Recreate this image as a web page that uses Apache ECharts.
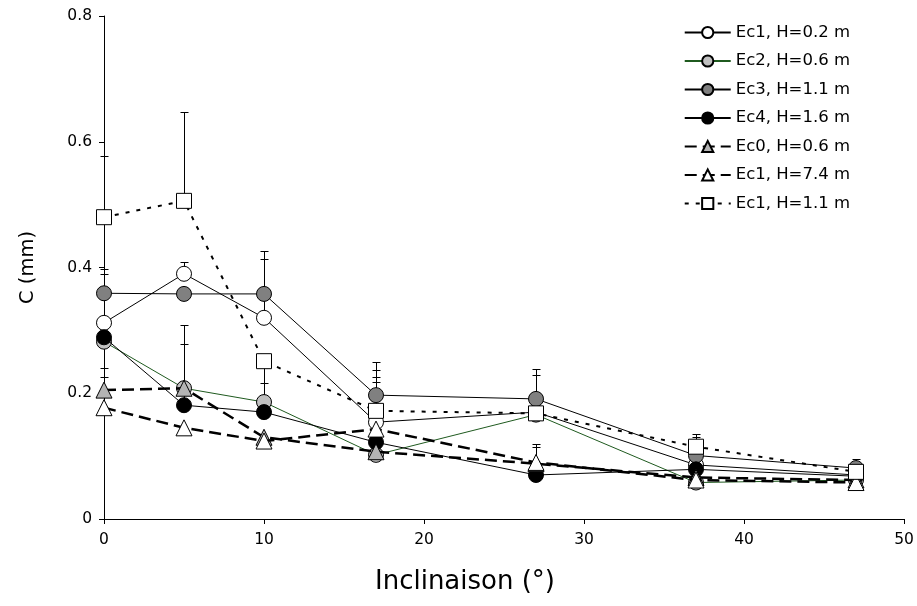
<!DOCTYPE html>
<html>
<head>
<meta charset="utf-8">
<script src="https://cdn.jsdelivr.net/npm/echarts@6/dist/echarts.min.js"></script>
<style>
html,body{margin:0;padding:0;background:#fff;}
#c{width:917px;height:606px;}
</style>
</head>
<body>
<div id="c"></div>
<script>
// Inclination angles (°)
const xs = [0, 5, 10, 17, 27, 37, 47];
// Series names
const names = ['Ec1, H=0.2 m','Ec2, H=0.6 m','Ec3, H=1.1 m','Ec4, H=1.6 m','Ec0, H=0.6 m','Ec1, H=7.4 m','Ec1, H=1.1 m'];
// C (mm) values
const ec1_02 = [0.312, 0.390, 0.320, 0.154, 0.170, 0.086, 0.070];
const ec2_06 = [0.282, 0.208, 0.186, 0.102, 0.166, 0.058, 0.062];
const ec3_11 = [0.359, 0.358, 0.358, 0.197, 0.191, 0.101, 0.081];
const ec4_16 = [0.289, 0.181, 0.170, 0.122, 0.070, 0.079, 0.068];
const ec0_06 = [0.205, 0.208, 0.130, 0.107, 0.088, 0.066, 0.062];
const ec1_74 = [0.177, 0.145, 0.124, 0.143, 0.090, 0.062, 0.058];
const ec1_11 = [0.480, 0.506, 0.251, 0.172, 0.168, 0.115, 0.075];
// Upper error bar ends (null = none)
const err1_02 = [0.390, 0.409, 0.414, 0.226, null, null, null];
const err2_06 = [null, 0.309, 0.241, null, 0.229, null, null];
const err3_11 = [0.398, null, 0.427, 0.249, 0.238, 0.130, 0.095];
const err4_16 = [null, 0.278, 0.217, 0.218, null, null, null];
const err0_06 = [0.240, null, null, null, 0.120, null, null];
const err1_74 = [0.226, null, null, null, 0.115, null, null];
const err1_11 = [0.578, 0.648, null, 0.237, null, 0.135, null];
// Tick labels
const xTicks = [0, 10, 20, 30, 40, 50];
const yTicks = [0, 0.2, 0.4, 0.6, 0.8];

const vals = [ec1_02, ec2_06, ec3_11, ec4_16, ec0_06, ec1_74, ec1_11];
const errs = [err1_02, err2_06, err3_11, err4_16, err0_06, err1_74, err1_11];

const FONT = 'DejaVu Sans, Liberation Sans, Arial, sans-serif';

const styles = [
  {symbol:'circle', size:15, fill:'#ffffff', line:'#000000', lw:1, type:'solid'},
  {symbol:'circle', size:15, fill:'#c0c0c0', line:'#1f5a1f', lw:1, type:'solid'},
  {symbol:'circle', size:15, fill:'#808080', line:'#000000', lw:1, type:'solid'},
  {symbol:'circle', size:15, fill:'#000000', line:'#000000', lw:1, type:'solid'},
  {symbol:'triangle', size:16, fill:'#b4b4b4', line:'#000000', lw:2.5, type:[12,6]},
  {symbol:'triangle', size:16, fill:'#ffffff', line:'#000000', lw:2.5, type:[12,6]},
  {symbol:'rect', size:15, fill:'#ffffff', line:'#000000', lw:2, type:[4,7]}
];

const series = [];
const errData = [];
vals.forEach((v, si) => {
  errs[si].forEach((e, i) => { if (e !== null) errData.push([xs[i], v[i], e]); });
});
series.push({
  type: 'custom',
  name: 'err',
  silent: true,
  z: 1,
  data: errData,
  renderItem: function (params, api) {
    const p0 = api.coord([api.value(0), api.value(1)]);
    const p1 = api.coord([api.value(0), api.value(2)]);
    const x = Math.round(p0[0]) + 0.5;
    const yt = Math.round(p1[1]) + 0.5;
    return {
      type: 'group',
      children: [
        {type:'line', shape:{x1:x, y1:p0[1], x2:x, y2:yt}, style:{stroke:'#000', lineWidth:1}},
        {type:'line', shape:{x1:x-4, y1:yt, x2:x+4, y2:yt}, style:{stroke:'#000', lineWidth:1}}
      ]
    };
  }
});
vals.forEach((v, si) => {
  const s = styles[si];
  series.push({
    type: 'line',
    name: names[si],
    z: 2 + si,
    data: xs.map((x, i) => [x, v[i]]),
    symbol: s.symbol,
    symbolSize: s.size,
    showAllSymbol: true,
    lineStyle: {color: s.line, width: s.lw, type: s.type},
    itemStyle: {color: s.fill, borderColor: '#000000', borderWidth: 1},
    emphasis: {disabled: true},
    animation: false
  });
});

const chart = echarts.init(document.getElementById('c'), null, {renderer: 'canvas'});
chart.setOption({
  animation: false,
  backgroundColor: '#ffffff',
  textStyle: {fontFamily: FONT},
  grid: {left: 104, right: 13, top: 16, bottom: 87, containLabel: false},
  legend: {
    data: names,
    orient: 'vertical',
    right: 62,
    top: 19,
    itemWidth: 46,
    itemHeight: 14,
    itemGap: 11.5,
    textStyle: {fontSize: 16.5, color: '#000', fontFamily: FONT},
    selectedMode: false
  },
  xAxis: {
    type: 'value',
    min: xTicks[0], max: xTicks[xTicks.length - 1], interval: 10,
    name: 'Inclinaison (°)',
    nameLocation: 'middle',
    nameGap: 50,
    nameTextStyle: {fontSize: 26, color: '#000', fontFamily: FONT, padding: [0, 78, 0, 0]},
    axisLine: {lineStyle: {color: '#000', width: 1}},
    axisTick: {length: 5, lineStyle: {color: '#000'}},
    axisLabel: {fontSize: 15.5, color: '#000', margin: 13, fontFamily: FONT},
    splitLine: {show: false}
  },
  yAxis: {
    type: 'value',
    min: yTicks[0], max: yTicks[yTicks.length - 1], interval: 0.2,
    name: 'C (mm)',
    nameLocation: 'middle',
    nameGap: 66,
    nameTextStyle: {fontSize: 19.5, color: '#000', fontFamily: FONT},
    axisLine: {show: true, lineStyle: {color: '#000', width: 1}},
    axisTick: {show: true, length: 5, lineStyle: {color: '#000'}},
    axisLabel: {fontSize: 15.5, color: '#000', margin: 12, fontFamily: FONT, formatter: v => String(Math.round(v * 10) / 10)},
    splitLine: {show: false}
  },
  series: series
});
</script>
</body>
</html>
